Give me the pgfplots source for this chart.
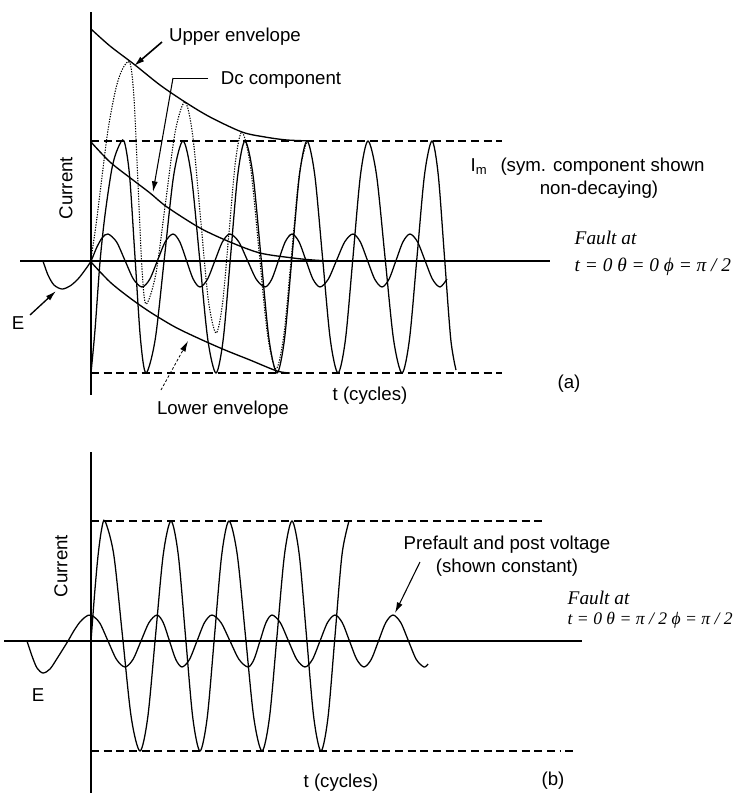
\documentclass[border=0pt]{standalone}
\usepackage{pgfplots}
\pgfplotsset{compat=1.18}
\usepackage{fontspec}
\setmainfont{Liberation Sans}
\newfontfamily\tms{Liberation Serif}
\usetikzlibrary{arrows.meta}
\tikzset{
  lab/.style={font=\fontsize{14}{16}\selectfont},
  ital/.style={font=\tms\itshape\fontsize{14.5}{16}\selectfont, anchor=west},
  arr/.style={-{Latex[length=8pt,width=4.5pt]}},
  dsh/.style={dash pattern=on 6pt off 3.5pt},
}
\begin{document}
\begin{tikzpicture}
\begin{axis}[
  scale only axis, width=554.25pt, height=595.5pt,
  xmin=0, xmax=739, ymin=0, ymax=794, y dir=reverse,
  hide axis, clip=false,
  every axis plot/.append style={black, line width=0.95pt, mark=none},
]
% ---------------- panel (a) ----------------
% axes
\addplot[line width=0.8pt] coordinates {(91,12) (91,395)};
\addplot[line width=1.4pt] coordinates {(91,261) (91,395)};
\addplot[line width=0.8pt] coordinates {(20,261) (550,261)};
\addplot[line width=1.5pt] coordinates {(20,261) (370,261)};
% dashed Im lines
\addplot[dsh, line width=1.2pt] coordinates {(91,141) (502,141)};
\addplot[dsh, line width=1.2pt] coordinates {(91,373) (502,373)};
% upper envelope
\addplot[smooth, line width=1pt] coordinates {(91,29) (110,46) (135,65) (160,85) (185,102) (210,117) (242,132) (265,137) (287,140) (313,141)};
% lower envelope
\addplot[smooth, line width=1pt] coordinates {(91,262) (110,282) (130,298) (150,312) (175,327) (200,339) (225,350) (250,360) (277,371) (290,373)};
% dc component
\addplot[smooth, line width=1pt] coordinates {(91,142) (110,162) (133,180) (150,193) (167,207) (200,228) (230,242) (260,253) (293,258) (313,260) (330,261)};
% symmetrical current
\addplot[smooth] coordinates {
(91,373) (95,330) (100,262) (105,215) (112,168) (118,148) (124,141)
(129.5,174.9) (135,257) (140.5,339.1) (146,373)
(155.25,339.1) (164.5,257) (173.75,174.9) (183,141)
(191.25,174.9) (199.5,257) (207.75,339.1) (216,373)
(223.25,339.1) (230.5,257) (237.75,174.9) (245,141)
(253,174.9) (261,257) (269,339.1) (277,373)
(284.5,339.1) (292,257) (299.5,174.9) (307,141)
(314.75,174.9) (322.5,257) (330.25,339.1) (338,373)
(345.5,339.1) (353,257) (360.5,174.9) (368,141)
(376.5,174.9) (385,257) (393.5,339.1) (402,373)
(409.5,339.1) (417,257) (424.5,174.9) (432,141)
(438.25,174.9) (444.5,257) (450.75,339.1) (456,370)};
% total asymmetrical current (dotted)
\addplot[smooth, densely dotted, line width=0.8pt] coordinates {
(91,259) (96,225) (101,185) (108,130) (116,88) (123,68) (130,63)
(134,98.2) (138,183.5) (142,268.8) (146,304)
(155.75,274.5) (165.5,203) (175.25,131.5) (185,102)
(192.75,135.7) (200.5,217.5) (208.25,299.3) (216,333)
(222.5,303.7) (229,232.5) (235.5,161.3) (242,132)
(250.5,166.6) (259,250.5) (267.5,334.4) (276,369)
(283.75,335.7) (291.5,255) (299.25,174.3) (307,141)};
% voltage E
\addplot[smooth] coordinates {
(43,261) (48,275) (54,285) (62,289) (70,286) (78,279) (85,270) (91,261) (96.7,247.5) (102.3,237.6) (108,234)
(116.5,241.8) (125,260.5) (133.5,279.2) (142,287)
(149.75,279.2) (157.5,260.5) (165.25,241.8) (173,234)
(179.75,241.8) (186.5,260.5) (193.25,279.2) (200,287)
(207.5,279.2) (215,260.5) (222.5,241.8) (230,234)
(238.75,241.8) (247.5,260.5) (256.25,279.2) (265,287)
(271.75,279.2) (278.5,260.5) (285.25,241.8) (292,234)
(299,241.8) (306,260.5) (313,279.2) (320,287)
(328.25,279.2) (336.5,260.5) (344.75,241.8) (353,234)
(360.25,241.8) (367.5,260.5) (374.75,279.2) (382,287)
(389,279.2) (396,260.5) (403,241.8) (410,234)
(417.5,241.8) (425,260.5) (432.5,279.2) (440,287)
(447,279)};
% annotation arrows (a)
\addplot[arr, line width=1.2pt] coordinates {(162,42) (134,66)};
\addplot[line width=0.7pt] coordinates {(208,78) (173,78)};
\addplot[arr, line width=0.8pt] coordinates {(173,78) (153,192)};
\addplot[arr, line width=1pt] coordinates {(30,315) (56,291)};
\addplot[arr, line width=0.6pt, dash pattern=on 2pt off 1.5pt] coordinates {(161,390) (188,341)};
% labels (a)
\node[lab] at (235,37) {Upper envelope};
\node[lab] at (281,80) {Dc component};
\node[lab, rotate=90] at (66,188) {Current};
\node[lab] at (18,323) {E};
\node[lab] at (223,410) {Lower envelope};
\node[lab] at (370,396) {t (cycles)};
\node[lab] at (569,384) {(a)};
\node[lab, anchor=west] at (466,167) {I\textsubscript{m}\hspace{0.7em}(sym. component shown};
\node[lab] at (599,190) {non-decaying)};
\node[ital] at (570,238) {Fault at};
\node[ital] at (570,267) {t = 0 θ = 0 ϕ = π / 2};
% ---------------- panel (b) ----------------
\addplot[line width=0.8pt] coordinates {(91,452) (91,793)};
\addplot[line width=1.4pt] coordinates {(91,641) (91,793)};
\addplot[line width=1.4pt] coordinates {(91,452) (91,478)};
\addplot[line width=0.8pt] coordinates {(4,641) (582,641)};
\addplot[dsh, line width=0.8pt] coordinates {(91,521) (547,521)};
\addplot[dsh, line width=0.8pt] coordinates {(91,751) (560,751)};
\addplot[line width=1.4pt] coordinates {(565,751) (573,751)};
% current (b)
\addplot[smooth] coordinates {
(91,641) (94.5,595) (98,556) (101.5,530) (105,521)
(113.75,554.6) (122.5,636) (131.25,717.4) (140,751)
(147.75,717.4) (155.5,636) (163.25,554.6) (171,521)
(178.25,554.6) (185.5,636) (192.75,717.4) (200,751)
(207.25,717.4) (214.5,636) (221.75,554.6) (229,521)
(237.25,554.6) (245.5,636) (253.75,717.4) (262,751)
(269.5,717.4) (277,636) (284.5,554.6) (292,521)
(299.25,554.6) (306.5,636) (313.75,717.4) (321,751)
(328,717.4) (335,636) (342,554.6) (349,521)};
% voltage E (b)
\addplot[smooth] coordinates {
(27,641) (32,656) (37,668) (43,673) (50,669) (58,657) (68,641) (73.75,631) (79.5,622.6) (85.25,617) (91,615)
(99.5,622.6) (108,641) (116.5,659.4) (125,667)
(133,659.4) (141,641) (149,622.6) (157,615)
(163.25,622.6) (169.5,641) (175.75,659.4) (182,667)
(189.5,659.4) (197,641) (204.5,622.6) (212,615)
(221,622.6) (230,641) (239,659.4) (248,667)
(254,659.4) (260,641) (266,622.6) (272,615)
(280.25,622.6) (288.5,641) (296.75,659.4) (305,667)
(312.5,659.4) (320,641) (327.5,622.6) (335,615)
(342.25,622.6) (349.5,641) (356.75,659.4) (364,667)
(371.25,659.4) (378.5,641) (385.75,622.6) (393,615)
(400.75,622.6) (408.5,641) (416.25,659.4) (424,667)
(428,664)};
\addplot[arr, line width=0.8pt] coordinates {(420,562) (395,613)};
% labels (b)
\node[lab, rotate=90] at (61,566) {Current};
\node[lab] at (38,695) {E};
\node[lab] at (507,545) {Prefault and post voltage};
\node[lab] at (507,568) {(shown constant)};
\node[ital] at (563,598) {Fault at};
\node[ital, font=\tms\itshape\fontsize{13.2}{16}\selectfont] at (563,620) {t = 0 θ = π / 2 ϕ = π / 2};
\node[lab] at (341,783) {t (cycles)};
\node[lab] at (553,781) {(b)};
\end{axis}
\pgfresetboundingbox
\path (0,0) rectangle (554.25pt,595.5pt);
\end{tikzpicture}
\end{document}
